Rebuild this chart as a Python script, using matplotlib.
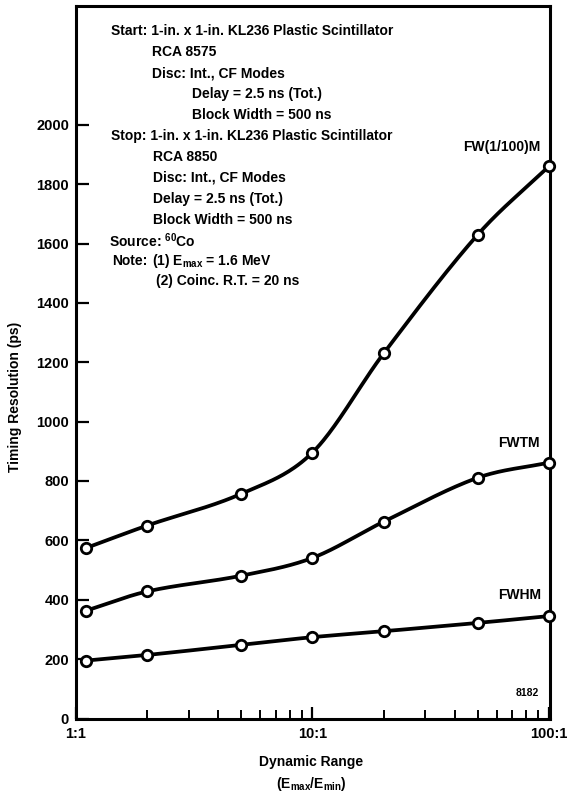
import numpy as np
import matplotlib
matplotlib.use("Agg")
from matplotlib import pyplot as plt
from matplotlib.ticker import FixedLocator, NullFormatter

# timing resolution (ps) vs dynamic range Emax/Emin
ratio = [1.1, 2, 5, 10, 20, 50, 100]
fwhm = [195, 214, 248, 274, 294, 322, 345]
fwtm = [363, 428, 481, 541, 663, 811, 862]
fw100 = [574, 650, 757, 896, 1230, 1630, 1860]

xtick_vals = [1, 10, 100]
xtick_text = ["1:1", "10:1", "100:1"]
ytick_vals = list(range(0, 2001, 200))

FONT = "Liberation Sans"
W, H = 567, 797

plt.rcParams['font.family'] = [FONT, 'DejaVu Sans']
plt.rcParams['font.weight'] = 'bold'
plt.rcParams['mathtext.fontset'] = 'custom'
plt.rcParams['mathtext.rm'] = FONT + ':bold'
plt.rcParams['mathtext.it'] = FONT + ':bold'
plt.rcParams['mathtext.bf'] = FONT + ':bold'


def smooth(xs, ys, n=40):
    # cubic Hermite through the points, in log10(x) space
    lx = np.log10(xs)
    y = np.asarray(ys, float)
    m = np.zeros_like(y)
    m[1:-1] = (y[2:] - y[:-2]) / (lx[2:] - lx[:-2])
    m[0] = (y[1] - y[0]) / (lx[1] - lx[0])
    m[-1] = (y[-1] - y[-2]) / (lx[-1] - lx[-2])
    out_x, out_y = [], []
    for i in range(len(y) - 1):
        h = lx[i + 1] - lx[i]
        t = np.linspace(0, 1, n)
        h00 = 2*t**3 - 3*t**2 + 1
        h10 = t**3 - 2*t**2 + t
        h01 = -2*t**3 + 3*t**2
        h11 = t**3 - t**2
        out_x.append(lx[i] + t*h)
        out_y.append(h00*y[i] + h10*h*m[i] + h01*y[i+1] + h11*h*m[i+1])
    return 10**np.concatenate(out_x), np.concatenate(out_y)


fig = plt.figure(figsize=(W/100, H/100), dpi=100)
left, right, top, bottom = 76, 549.5, 6, 718.5
ax = fig.add_axes([left/W, 1 - bottom/H, (right-left)/W, (bottom-top)/H])

for series in (fwhm, fwtm, fw100):
    sx, sy = smooth(ratio, series)
    ax.plot(sx, sy, color='black', lw=2.7, solid_capstyle='round', clip_on=False)
    ax.plot(ratio, series, 'o', ms=7.5, mfc='white', mec='black', mew=2.0,
            clip_on=False, zorder=5)

ax.set_xscale('log')
ax.set_xlim(1, 100.5)
ax.set_ylim(0, 2400)

ax.xaxis.set_major_locator(FixedLocator(xtick_vals))
ax.set_xticklabels(xtick_text)
minors = [k * d for d in (1, 10) for k in range(2, 10)]
ax.xaxis.set_minor_locator(FixedLocator(minors))
ax.xaxis.set_minor_formatter(NullFormatter())
ax.set_yticks(ytick_vals)

ax.tick_params(axis='both', which='major', direction='in', length=9, width=1.6,
               labelsize=10.5, pad=6)
ax.tick_params(axis='x', which='minor', direction='in', length=6.5, width=1.4)
ax.tick_params(axis='y', pad=5)
ax.tick_params(top=False, right=False)
for s in ax.spines.values():
    s.set_linewidth(2.2)


def ftext(x, y, s, **kw):
    fig.text(x/W, 1 - y/H, s, va='center', **kw)


# curve labels
ftext(540, 147, "FW(1/100)M", ha='right', fontsize=10)
ftext(540, 443, "FWTM", ha='right', fontsize=10)
ftext(541, 595, "FWHM", ha='right', fontsize=10)
ftext(527, 693, "8182", ha='center', fontsize=7.5)

# experimental conditions
fs_note = 10
notes = [
    (111, 31, "Start: 1-in. x 1-in. KL236 Plastic Scintillator"),
    (152, 52, "RCA 8575"),
    (152, 73, "Disc: Int., CF Modes"),
    (192, 94, "Delay = 2.5 ns (Tot.)"),
    (192, 115, "Block Width = 500 ns"),
    (111, 136, "Stop: 1-in. x 1-in. KL236 Plastic Scintillator"),
    (153, 157, "RCA 8850"),
    (153, 178, "Disc: Int., CF Modes"),
    (153, 199, "Delay = 2.5 ns (Tot.)"),
    (153, 220, "Block Width = 500 ns"),
    (109, 241, "Source: $^{60}$Co"),
    (112, 261, "Note:"),
    (152, 261, "(1) E$_{max}$ = 1.6 MeV"),
    (156, 281, "(2) Coinc. R.T. = 20 ns"),
]
for x, y, s in notes:
    ftext(x, y, s, ha='left', fontsize=fs_note)

# axis titles
fig.text(15/W, 1 - 397/H, "Timing Resolution (ps)", rotation=90,
         ha='center', va='center', fontsize=10)
ftext(311, 762, "Dynamic Range", ha='center', fontsize=10)
ftext(311, 784, "(E$_{max}$/E$_{min}$)", ha='center', fontsize=10)

fig.savefig("out.png", dpi=100)
